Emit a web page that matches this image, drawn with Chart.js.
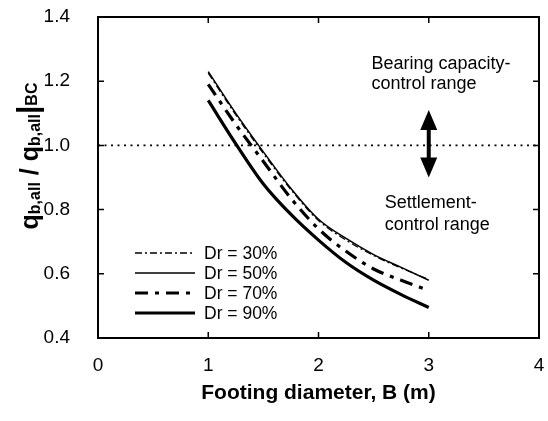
<!DOCTYPE html>
<html><head><meta charset="utf-8">
<script src="https://cdn.jsdelivr.net/npm/chart.js@4.4.1/dist/chart.umd.min.js"></script>
<style>html,body{margin:0;padding:0;background:#fff;} #wrap{width:548px;height:421px;position:relative;}</style>
</head><body><div id="wrap"><canvas id="c"></canvas></div>
<script>
// ---- data ----
const diameters = [1, 1.25, 1.5, 1.75, 2, 2.25, 2.5, 2.75, 3];
const dr30 = [1.225, 1.095, 0.975, 0.862, 0.766, 0.705, 0.657, 0.618, 0.582];
const dr50 = [1.23, 1.10, 0.98, 0.866, 0.77, 0.71, 0.66, 0.62, 0.58];
const dr70 = [1.19, 1.065, 0.95, 0.835, 0.74, 0.67, 0.615, 0.58, 0.548];
const dr90 = [1.14, 1.005, 0.88, 0.785, 0.705, 0.635, 0.58, 0.535, 0.495];
const seriesLabels = ['Dr = 30%', 'Dr = 50%', 'Dr = 70%', 'Dr = 90%'];
const xTicks = [0, 1, 2, 3, 4];
const yTicks = [0.4, 0.6, 0.8, 1.0, 1.2, 1.4];
const refLine = 1.0;
const arrowX = 3, arrowFrom = 0.9, arrowTo = 1.11;
const notes = [
  {text: 'Bearing capacity-', x: 2.48, y: 1.252},
  {text: 'control range', x: 2.48, y: 1.19},
  {text: 'Settlement-', x: 2.6, y: 0.82},
  {text: 'control range', x: 2.6, y: 0.753}
];

const FONT = "'Liberation Sans', Arial, Helvetica, sans-serif";
Chart.defaults.font.family = FONT;
Chart.defaults.color = '#000';

const pts = arr => diameters.map((d, i) => ({x: d, y: arr[i]}));

const styles = [
  {borderWidth: 1.3, borderDash: [7, 3, 2, 3]},
  {borderWidth: 1.5, borderDash: []},
  {borderWidth: 3.2, borderDash: [13, 7, 4, 7]},
  {borderWidth: 3.2, borderDash: []}
];
const seriesData = [dr30, dr50, dr70, dr90];

const datasets = seriesData.map((arr, i) => ({
  label: seriesLabels[i],
  data: pts(arr),
  borderColor: '#000',
  backgroundColor: '#000',
  borderWidth: styles[i].borderWidth,
  borderDash: styles[i].borderDash,
  pointRadius: 0,
  cubicInterpolationMode: 'monotone',
  fill: false,
  isSeries: true
}));
datasets.push({
  label: 'ref',
  data: [{x: xTicks[0], y: refLine}, {x: xTicks[xTicks.length - 1], y: refLine}],
  borderColor: '#000',
  borderWidth: 1.6,
  borderDash: [2, 4.5],
  pointRadius: 0,
  fill: false,
  isSeries: false
});

const noPad = s => { s.paddingTop = 0; s.paddingBottom = 0; s.paddingLeft = 0; s.paddingRight = 0; };

const framePlugin = {
  id: 'frame',
  afterDatasetsDraw(chart) {
    const {ctx, chartArea: a, scales: {x, y}} = chart;
    ctx.save();
    ctx.strokeStyle = '#000';
    ctx.lineWidth = 1.5;
    const L = 6;
    xTicks.forEach(v => {
      const px = x.getPixelForValue(v);
      ctx.beginPath();
      ctx.moveTo(px, a.bottom); ctx.lineTo(px, a.bottom - L);
      ctx.moveTo(px, a.top); ctx.lineTo(px, a.top + L);
      ctx.stroke();
    });
    yTicks.forEach(v => {
      const py = y.getPixelForValue(v);
      ctx.beginPath();
      ctx.moveTo(a.left, py); ctx.lineTo(a.left + L, py);
      ctx.moveTo(a.right, py); ctx.lineTo(a.right - L, py);
      ctx.stroke();
    });
    ctx.lineWidth = 2;
    ctx.strokeRect(a.left, a.top, a.right - a.left, a.bottom - a.top);

    // arrow
    const ax = x.getPixelForValue(arrowX);
    const y1 = y.getPixelForValue(arrowTo), y2 = y.getPixelForValue(arrowFrom);
    const hw = 8.5, hh = 20;
    ctx.fillStyle = '#000';
    ctx.lineWidth = 4;
    ctx.beginPath(); ctx.moveTo(ax, y1 + hh - 2); ctx.lineTo(ax, y2 - hh + 2); ctx.stroke();
    ctx.beginPath(); ctx.moveTo(ax, y1); ctx.lineTo(ax - hw, y1 + hh); ctx.lineTo(ax + hw, y1 + hh); ctx.closePath(); ctx.fill();
    ctx.beginPath(); ctx.moveTo(ax, y2); ctx.lineTo(ax - hw, y2 - hh); ctx.lineTo(ax + hw, y2 - hh); ctx.closePath(); ctx.fill();

    // annotation text
    ctx.font = '18px ' + FONT;
    ctx.textAlign = 'left';
    ctx.textBaseline = 'middle';
    notes.forEach(n => ctx.fillText(n.text, x.getPixelForValue(n.x), y.getPixelForValue(n.y)));

    // legend
    ctx.font = '17.5px ' + FONT;
    const lx0 = a.left + 37, lx1 = a.left + 97, tx = a.left + 106;
    let ly = a.top + 236;
    chart.data.datasets.filter(d => d.isSeries).forEach(d => {
      ctx.lineWidth = d.borderWidth;
      ctx.setLineDash(d.borderDash);
      ctx.beginPath(); ctx.moveTo(lx0, ly); ctx.lineTo(lx1, ly); ctx.stroke();
      ctx.setLineDash([]);
      ctx.fillText(d.label, tx, ly + 1);
      ly += 20;
    });

    // y-axis title with subscripts
    const segs = [
      {t: 'q', s: 25, dy: 0},
      {t: 'b,all', s: 16, dy: 2},
      {t: ' / ', s: 25, dy: 0},
      {t: 'q', s: 25, dy: 0},
      {t: 'b,all', s: 16, dy: 2},
      {t: '|', s: 30, dy: 0},
      {t: 'BC', s: 16, dy: -1}
    ];
    let total = 0;
    segs.forEach(sg => { ctx.font = 'bold ' + sg.s + 'px ' + FONT; sg.w = ctx.measureText(sg.t).width; total += sg.w; });
    ctx.translate(38, 156);
    ctx.rotate(-Math.PI / 2);
    ctx.textBaseline = 'alphabetic';
    let cx = -total / 2;
    segs.forEach(sg => {
      ctx.font = 'bold ' + sg.s + 'px ' + FONT;
      ctx.fillText(sg.t, cx, sg.dy);
      cx += sg.w;
    });
    ctx.restore();
  }
};

new Chart(document.getElementById('c'), {
  type: 'line',
  data: {datasets},
  options: {
    responsive: true,
    maintainAspectRatio: false,
    animation: false,
    layout: {padding: {left: 0, right: 9, top: 17, bottom: 0}},
    plugins: {legend: {display: false}, tooltip: {enabled: false}},
    scales: {
      x: {
        type: 'linear', min: 0, max: 4,
        afterBuildTicks: s => { s.ticks = xTicks.map(v => ({value: v})); },
        afterFit: s => { s.height = 83; noPad(s); },
        grid: {display: false, drawTicks: false},
        border: {display: false},
        ticks: {font: {size: 19}, padding: 16, color: '#000', callback: v => String(v)},
        title: {display: true, text: 'Footing diameter, B (m)', font: {size: 21, weight: 'bold'}, padding: {top: 0, bottom: 15}, color: '#000'}
      },
      y: {
        type: 'linear', min: 0.4, max: 1.4,
        afterBuildTicks: s => { s.ticks = yTicks.map(v => ({value: v})); },
        afterFit: s => { s.width = 98; noPad(s); },
        grid: {display: false, drawTicks: false},
        border: {display: false},
        ticks: {font: {size: 19}, padding: 28, color: '#000', callback: v => Number(v).toFixed(1)}
      }
    }
  },
  plugins: [framePlugin]
});
</script>
</body></html>
